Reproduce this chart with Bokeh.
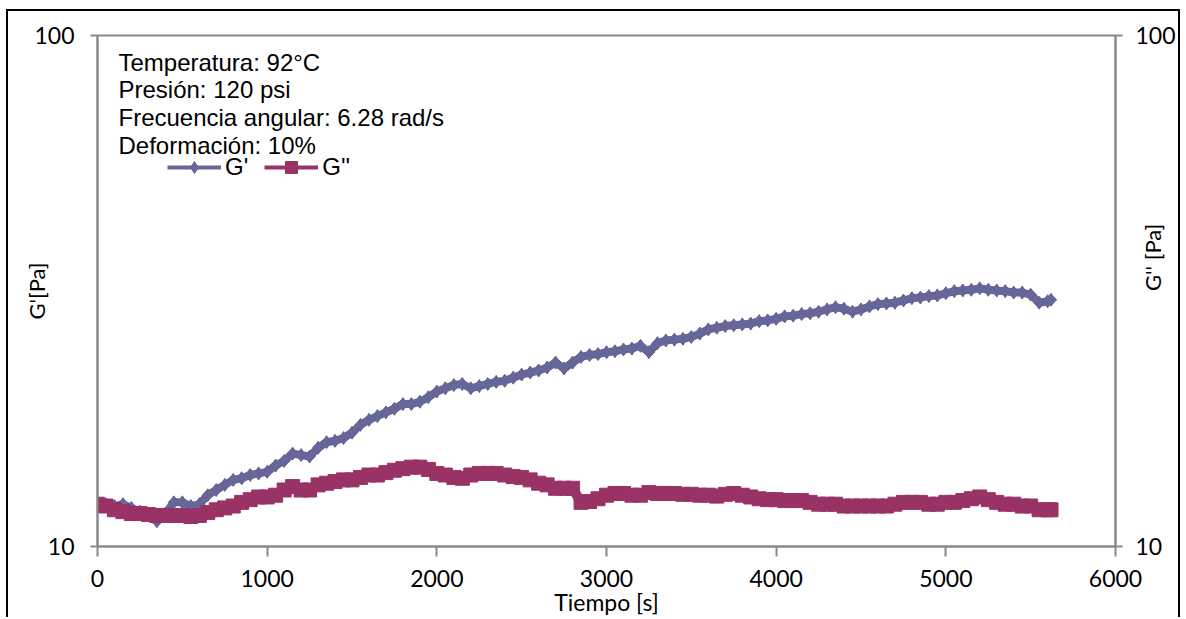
import numpy as np
from bokeh.plotting import figure
from bokeh.models import (LogAxis, FixedTicker, Legend, LegendItem, Label,
                          Range1d, PrintfTickFormatter)
from bokeh.embed import file_html
from bokeh.resources import INLINE

# ---------------- data ----------------
time_s = [0, 50, 100, 150, 200, 250, 300, 350, 400, 450, 500, 550, 600, 650,
          700, 750, 800, 850, 900, 950, 1000, 1050, 1100, 1150, 1200, 1250,
          1300, 1350, 1400, 1450, 1500, 1550, 1600, 1650, 1700, 1750, 1800,
          1850, 1900, 1950, 2000, 2050, 2100, 2150, 2200, 2250, 2300, 2350,
          2400, 2450, 2500, 2550, 2600, 2650, 2700, 2750, 2800, 2850, 2900,
          2950, 3000, 3050, 3100, 3150, 3200, 3250, 3300, 3350, 3400, 3450,
          3500, 3550, 3600, 3650, 3700, 3750, 3800, 3850, 3900, 3950, 4000,
          4050, 4100, 4150, 4200, 4250, 4300, 4350, 4400, 4450, 4500, 4550,
          4600, 4650, 4700, 4750, 4800, 4850, 4900, 4950, 5000, 5050, 5100,
          5150, 5200, 5250, 5300, 5350, 5400, 5450, 5500, 5550, 5600, 5620]

g_prime = [12.1, 12.1, 12.0, 12.1, 11.9, 11.7, 11.5, 11.2, 11.6, 12.2, 12.2,
           12.0, 12.1, 12.6, 12.9, 13.2, 13.5, 13.6, 13.8, 13.9, 14.0, 14.4,
           14.7, 15.2, 15.1, 15.0, 15.6, 16.0, 16.1, 16.3, 16.7, 17.3, 17.7,
           18.0, 18.3, 18.6, 19.0, 19.0, 19.2, 19.6, 20.1, 20.4, 20.7, 20.8,
           20.4, 20.6, 20.8, 21.0, 21.1, 21.4, 21.7, 21.9, 22.1, 22.4, 22.9,
           22.3, 22.9, 23.5, 23.7, 23.8, 24.0, 24.1, 24.3, 24.4, 24.7, 24.0,
           25.0, 25.3, 25.4, 25.5, 25.7, 26.1, 26.6, 26.8, 27.0, 27.1, 27.2,
           27.3, 27.6, 27.7, 27.9, 28.2, 28.3, 28.5, 28.6, 28.8, 29.1, 29.4,
           29.2, 28.8, 29.1, 29.5, 29.8, 29.9, 30.0, 30.3, 30.6, 30.7, 30.9,
           31.0, 31.3, 31.6, 31.7, 31.8, 32.0, 31.8, 31.7, 31.6, 31.4, 31.4,
           31.1, 30.0, 30.2, 30.4]

g_double = [12.1, 12.0, 11.8, 11.7, 11.6, 11.6, 11.55, 11.5, 11.5, 11.5, 11.5,
            11.45, 11.5, 11.65, 11.8, 11.9, 12.0, 12.2, 12.35, 12.5, 12.5,
            12.6, 12.9, 13.1, 12.9, 12.9, 13.2, 13.3, 13.4, 13.5, 13.5, 13.65,
            13.8, 13.8, 13.95, 14.1, 14.2, 14.3, 14.3, 14.15, 13.9, 13.8,
            13.65, 13.6, 13.8, 13.9, 13.9, 13.9, 13.8, 13.7, 13.65, 13.5,
            13.3, 13.2, 13.0, 13.0, 13.0, 12.2, 12.25, 12.4, 12.6, 12.7, 12.7,
            12.6, 12.6, 12.75, 12.7, 12.7, 12.7, 12.65, 12.65, 12.6, 12.6,
            12.55, 12.65, 12.7, 12.6, 12.5, 12.4, 12.35, 12.35, 12.3, 12.3,
            12.3, 12.2, 12.1, 12.1, 12.1, 12.0, 12.0, 12.0, 12.0, 12.0, 12.0,
            12.1, 12.2, 12.2, 12.2, 12.1, 12.1, 12.2, 12.2, 12.3, 12.4, 12.5,
            12.35, 12.2, 12.1, 12.1, 12.0, 12.0, 11.8, 11.8, 11.8]

x_ticks = [0, 1000, 2000, 3000, 4000, 5000, 6000]
y_ticks = [10, 100]
series_names = ["G'", "G''"]
info_lines = ["Temperatura: 92°C", "Presión: 120 psi",
              "Frecuencia angular: 6.28 rad/s", "Deformación: 10%"]
x_title = "Tiempo [s]"
y_left_title = "G'[Pa]"
y_right_title = "G'' [Pa]"

# ---------------- styling ----------------
C1 = "#666699"
C2 = "#993366"
GRAY = "#898989"
SANS = "Liberation Sans"
CAL = "Lato"

# frame geometry in page pixels (used only to place free texts)
FL, FR, FT, FB = 97, 1116, 35, 546

p = figure(width=1174, height=608,
           x_range=Range1d(0, 6000), y_range=Range1d(10, 100),
           y_axis_type="log", output_backend="svg", toolbar_location=None,
           min_border_left=89, min_border_right=66,
           min_border_top=24, min_border_bottom=73)
p.styles = {"border-top": "2px solid black", "border-left": "2px solid black",
            "border-right": "2px solid black",
            "margin-left": "6px", "margin-top": "9px"}
p.grid.visible = False
p.outline_line_color = GRAY
p.outline_line_width = 2
p.background_fill_color = "white"
p.border_fill_color = "white"

# x axis
xa = p.xaxis[0]
xa.ticker = FixedTicker(ticks=x_ticks, minor_ticks=[])
xa.axis_line_color = GRAY
xa.axis_line_width = 2
xa.major_tick_line_color = GRAY
xa.major_tick_line_width = 2
xa.major_tick_in = 0
xa.major_tick_out = 10
xa.major_label_standoff = 13
xa.major_label_text_font = CAL
xa.major_label_text_font_size = "23px"
xa.major_label_text_color = "black"
xa.axis_label = x_title
xa.axis_label_text_font = CAL
xa.axis_label_text_font_size = "23px"
xa.axis_label_text_font_style = "normal"
xa.axis_label_text_color = "black"
xa.axis_label_standoff = -2


def style_y(ax, title, lab_standoff, title_standoff):
    ax.ticker = FixedTicker(ticks=y_ticks, minor_ticks=[])
    ax.formatter = PrintfTickFormatter(format="%d")
    ax.axis_line_color = GRAY
    ax.axis_line_width = 2
    ax.major_tick_line_color = GRAY
    ax.major_tick_line_width = 2
    ax.major_tick_in = 0
    ax.major_tick_out = 7
    ax.minor_tick_line_color = None
    ax.major_label_standoff = lab_standoff
    ax.major_label_text_font = CAL
    ax.major_label_text_font_size = "23px"
    ax.major_label_text_color = "black"
    ax.axis_label = title
    ax.axis_label_text_font = CAL
    ax.axis_label_text_font_size = "22px"
    ax.axis_label_text_font_style = "normal"
    ax.axis_label_text_color = "black"
    ax.axis_label_standoff = title_standoff


style_y(p.yaxis[0], y_left_title, 16, -19)
ra = LogAxis()
style_y(ra, y_right_title, 13, -26)
ra.axis_label_orientation = np.pi / 2
p.add_layout(ra, "right")

# series
band1 = p.line(time_s, g_prime, line_color=C1, line_width=8)
d1 = p.scatter(time_s, g_prime, marker="diamond", size=13,
               fill_color=C1, line_color=C1)
s1 = p.scatter(time_s, g_prime, marker="square", angle=np.pi / 4, size=8,
               fill_color=C1, line_color=C1)
l1 = p.line(time_s, g_prime, line_color=C1, line_width=4)

band2 = p.line(time_s, g_double, line_color=C2, line_width=10)
s2 = p.scatter(time_s, g_double, marker="square", size=14,
               fill_color=C2, line_color=C2)
l2 = p.line(time_s, g_double, line_color=C2, line_width=4)

legend = Legend(items=[LegendItem(label=series_names[0], renderers=[l1, d1]),
                       LegendItem(label=series_names[1], renderers=[l2, s2])],
                orientation="horizontal", location=(70, 364),
                glyph_width=54, glyph_height=30, label_standoff=4, spacing=16,
                padding=0, margin=0, border_line_alpha=0,
                background_fill_alpha=0,
                label_text_font=SANS, label_text_font_size="24px",
                label_text_color="black", label_height=20)
p.add_layout(legend, "center")


# free texts placed by page-pixel offsets relative to the plot frame
def y_from_px(py):
    return 10 ** (1 + (FB - py) / float(FB - FT))


def x_from_px(px):
    return (px - FL) / float(FR - FL) * 6000


for i, line in enumerate(info_lines):
    p.add_layout(Label(x=x_from_px(118), y=y_from_px(61.7 + 27.6 * i),
                       text=line, text_font=SANS, text_font_size="24px",
                       text_baseline="alphabetic", text_color="black"))

open("out.html", "w").write(file_html(p, INLINE))
